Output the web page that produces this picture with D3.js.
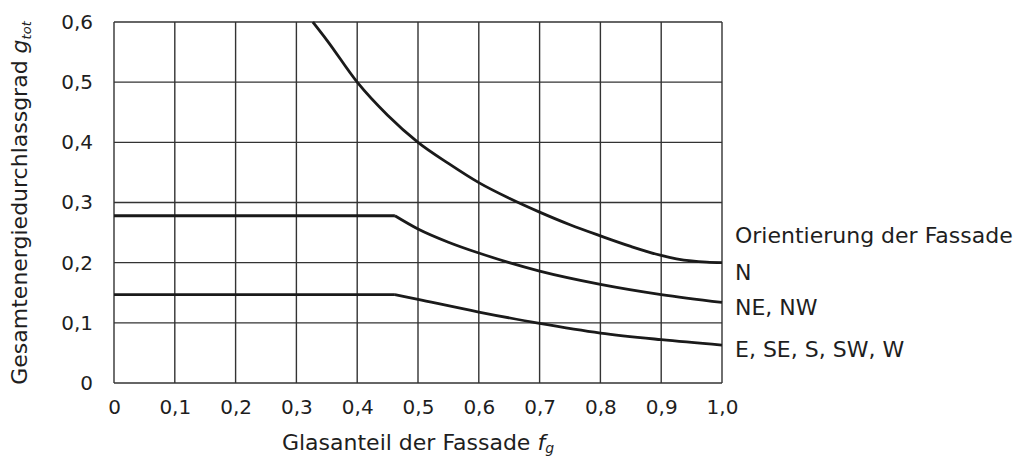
<!DOCTYPE html>
<html>
<head>
<meta charset="utf-8">
<script src="https://cdn.jsdelivr.net/npm/d3@7"></script>
<style>
  body { margin: 0; background: #fff; }
  svg text { font-family: "DejaVu Sans", sans-serif; fill: #1e1e1e; }
</style>
</head>
<body>
<svg id="chart" width="1022" height="458"></svg>
<script>
// tick values of both axes
var xTicks = [0, 0.1, 0.2, 0.3, 0.4, 0.5, 0.6, 0.7, 0.8, 0.9, 1.0];
var yTicks = [0, 0.1, 0.2, 0.3, 0.4, 0.5, 0.6];

// curves: glass fraction f_g -> g_tot
var nFg   = [0.327, 0.35, 0.4, 0.45, 0.5, 0.55, 0.6, 0.65, 0.7, 0.75, 0.8, 0.85, 0.9, 0.925, 0.95, 0.975, 1.0];
var nG    = [0.6, 0.57, 0.5, 0.445, 0.4, 0.365, 0.333, 0.307, 0.284, 0.263, 0.2445, 0.227, 0.212, 0.2065, 0.2028, 0.2008, 0.2];
var neFg  = [0, 0.462, 0.5, 0.55, 0.6, 0.65, 0.7, 0.8, 0.9, 1.0];
var neG   = [0.278, 0.278, 0.256, 0.234, 0.216, 0.2, 0.186, 0.164, 0.147, 0.134];
var esFg  = [0, 0.462, 0.5, 0.6, 0.7, 0.8, 0.9, 1.0];
var esG   = [0.147, 0.147, 0.139, 0.118, 0.099, 0.083, 0.072, 0.063];

var legendTitle = 'Orientierung der Fassade';
var seriesNames = ['N', 'NE, NW', 'E, SE, S, SW, W'];

(function (d3) {
    var svg = d3.select('#chart'),
        margin = {left: 114, top: 22},
        width = 608,
        height = 361,
        g = svg.append('g').attr('transform', 'translate(' + margin.left + ',' + margin.top + ')');

    var x = d3.scaleLinear().domain([0, 1]).range([0, width]),
        y = d3.scaleLinear().domain([0, 0.6]).range([height, 0]);

    // german decimal comma, "0" stays bare
    function fmt(v) {
        if (v === 0) { return '0'; }
        return d3.format('.1f')(v).replace('.', ',');
    }

    // grid lines (including the frame)
    g.append('g').selectAll('line.v').data(xTicks).enter().append('line')
        .attr('x1', function (d) { return x(d); })
        .attr('x2', function (d) { return x(d); })
        .attr('y1', 0).attr('y2', height)
        .attr('stroke', '#333').attr('stroke-width', 1.4);
    g.append('g').selectAll('line.h').data(yTicks).enter().append('line')
        .attr('x1', 0).attr('x2', width)
        .attr('y1', function (d) { return y(d); })
        .attr('y2', function (d) { return y(d); })
        .attr('stroke', '#333').attr('stroke-width', 1.4);

    // tick labels through d3 axes, lines hidden
    var xAxis = g.append('g').attr('transform', 'translate(0,' + height + ')')
        .call(d3.axisBottom(x).tickValues(xTicks).tickFormat(fmt).tickSize(0).tickPadding(17));
    var yAxis = g.append('g')
        .call(d3.axisLeft(y).tickValues(yTicks).tickFormat(fmt).tickSize(0).tickPadding(21));
    [xAxis, yAxis].forEach(function (a) {
        a.select('.domain').remove();
        a.selectAll('text').attr('font-size', 20).attr('fill', '#1e1e1e')
            .attr('font-family', '"DejaVu Sans", sans-serif');
    });

    // curves: flat part drawn straight, falling part smoothed
    var series = [[nFg, nG], [neFg, neG], [esFg, esG]];
    var smooth = d3.line().x(function (d) { return x(d[0]); }).y(function (d) { return y(d[1]); })
        .curve(d3.curveMonotoneX);
    var straight = d3.line().x(function (d) { return x(d[0]); }).y(function (d) { return y(d[1]); });

    series.forEach(function (s) {
        var pts = d3.zip(s[0], s[1]),
            k = 0;
        while (k + 1 < pts.length && pts[k + 1][1] === pts[0][1]) { k++; }
        if (k > 0) {
            g.append('path').attr('d', straight(pts.slice(0, k + 1)))
                .attr('fill', 'none').attr('stroke', '#1a1a1a').attr('stroke-width', 2.8);
        }
        g.append('path').attr('d', smooth(pts.slice(k)))
            .attr('fill', 'none').attr('stroke', '#1a1a1a').attr('stroke-width', 2.8)
            .attr('stroke-linejoin', 'round');
    });

    // legend at the right end of the curves
    var lx = width + 13,
        legendY = [y(0.233), y(0.171), y(0.113), y(0.044)];
    [legendTitle].concat(seriesNames).forEach(function (t, i) {
        g.append('text').attr('x', lx).attr('y', legendY[i])
            .attr('font-size', 22).text(t);
    });

    // axis titles
    var xt = svg.append('text').attr('x', margin.left + width / 2).attr('y', 450)
        .attr('text-anchor', 'middle').attr('font-size', 22);
    xt.append('tspan').text('Glasanteil der Fassade ');
    xt.append('tspan').attr('font-style', 'italic').text('f');
    xt.append('tspan').attr('font-style', 'italic').attr('font-size', 14).attr('dy', 3).text('g');

    var yt = svg.append('text').attr('transform', 'translate(27,203) rotate(-90)')
        .attr('text-anchor', 'middle').attr('font-size', 22);
    yt.append('tspan').text('Gesamtenergiedurchlassgrad ');
    yt.append('tspan').attr('font-style', 'italic').text('g');
    yt.append('tspan').attr('font-style', 'italic').attr('font-size', 13).attr('dy', 4).text('tot');
}(window.d3));
</script>
</body>
</html>
